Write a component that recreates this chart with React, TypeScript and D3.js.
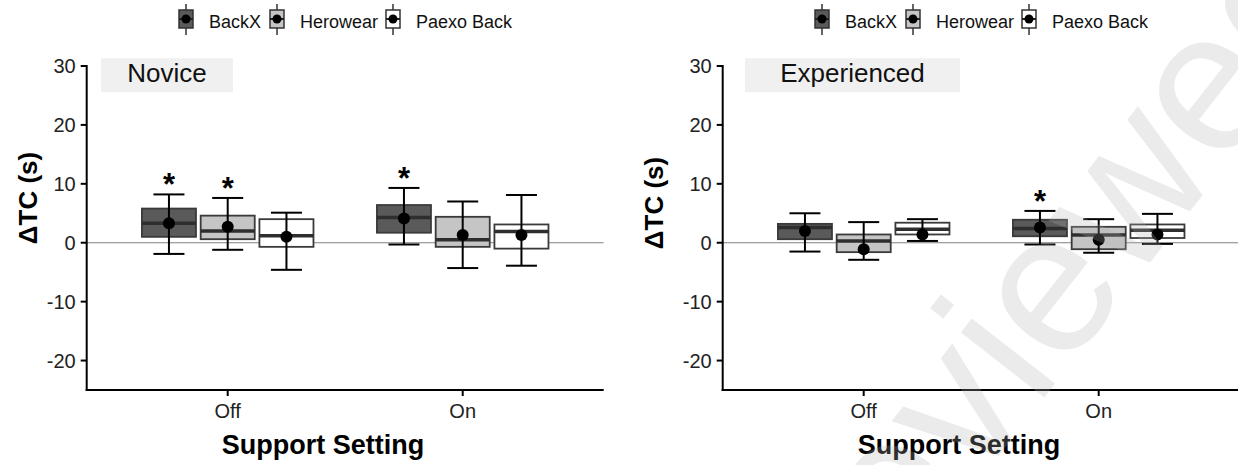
import * as d3 from "d3";

const settings = ["Off", "On"];
const devices = ["BackX", "Herowear", "Paexo Back"];
const deviceFill = ["#5a5a5a", "#c5c5c5", "#ffffff"];
const panelNames = ["Novice", "Experienced"];
const yTicks = [-20, -10, 0, 10, 20, 30];

// order in every array: Off BackX, Off Herowear, Off Paexo, On BackX, On Herowear, On Paexo
const noviceLow = [-1.9, -1.2, -4.6, -0.3, -4.3, -3.9];
const noviceQ1 = [1.0, 0.6, -0.7, 1.7, -0.7, -1.0];
const noviceMedian = [3.3, 2.0, 1.2, 4.3, 0.5, 1.9];
const noviceQ3 = [5.8, 4.6, 4.0, 6.4, 4.4, 3.1];
const noviceHigh = [8.2, 7.6, 5.1, 9.3, 7.0, 8.1];
const noviceMean = [3.3, 2.7, 1.0, 4.1, 1.3, 1.3];
const noviceSig = [true, true, false, true, false, false];

const expLow = [-1.5, -2.9, 0.3, -0.3, -1.7, -0.2];
const expQ1 = [0.6, -1.6, 1.4, 1.1, -1.1, 0.8];
const expMedian = [2.6, 0.3, 2.3, 2.4, 1.3, 2.1];
const expQ3 = [3.2, 1.4, 3.4, 3.9, 2.7, 3.1];
const expHigh = [5.0, 3.5, 4.0, 5.4, 4.0, 4.9];
const expMean = [2.0, -1.1, 1.4, 2.6, 0.5, 1.4];
const expSig = [false, false, false, true, false, false];

const panelData = [
  { low: noviceLow, q1: noviceQ1, med: noviceMedian, q3: noviceQ3, high: noviceHigh, mean: noviceMean, sig: noviceSig },
  { low: expLow, q1: expQ1, med: expMedian, q3: expQ3, high: expHigh, mean: expMean, sig: expSig },
];

// layout
const W = 1238;
const H = 465;
const panelShift = 636;
const plotLeft = 86.7;
const plotRight = 603.7;
const plotTop = 66;
const plotBottom = 390;
const labelBox = [
  { x: 101, w: 132 },
  { x: 745, w: 215 },
];
const yTitlePos = [
  { x: 36.5, y: 198 },
  { x: 663, y: 203 },
];
const legendOffsets = [0, 91, 207];

function Panel({ idx }: { idx: number }) {
  const dx = idx * panelShift;
  const x0 = plotLeft + dx;
  const x1 = plotRight + dx;
  const d = panelData[idx];

  const x = d3.scalePoint<string>().domain(settings).range([x0, x1]).padding(0.6);
  const step = x.step();
  const dodge = d3
    .scaleBand<string>()
    .domain(devices)
    .range([-0.375 * step, 0.375 * step]);
  const y = d3.scaleLinear().domain([-25, 30]).range([plotBottom, plotTop]);
  const boxW = dodge.bandwidth() * 0.92;
  const capW = 31;

  const boxes = d.low.map((_, i) => {
    const s = settings[Math.floor(i / 3)];
    const dev = devices[i % 3];
    const cx = (x(s) ?? 0) + (dodge(dev) ?? 0) + dodge.bandwidth() / 2;
    return { i, cx, fill: deviceFill[i % 3] };
  });

  const lx = 179 + dx;

  return (
    <g>
      {/* legend */}
      {devices.map((dev, k) => {
        const ox = lx + legendOffsets[k];
        return (
          <g key={dev}>
            <line x1={ox + 7} x2={ox + 7} y1={4} y2={35} stroke="#333" strokeWidth={1.5} />
            <rect x={ox} y={10} width={14} height={18} fill={deviceFill[k]} stroke="#333" strokeWidth={1.5} />
            <line x1={ox} x2={ox + 14} y1={19} y2={19} stroke="#222" strokeWidth={2} />
            <circle cx={ox + 7} cy={19} r={4.5} fill="#000" />
            <text x={ox + 30} y={28} fontSize={18} fill="#111">
              {dev}
            </text>
          </g>
        );
      })}

      {/* facet label */}
      <rect x={labelBox[idx].x} y={58.3} width={labelBox[idx].w} height={34} fill="#f0f0f0" />
      <text x={labelBox[idx].x + labelBox[idx].w / 2} y={82} fontSize={26} textAnchor="middle" fill="#111">
        {panelNames[idx]}
      </text>

      {/* zero line */}
      <line x1={x0} x2={x1} y1={y(0)} y2={y(0)} stroke="#808080" strokeWidth={1.2} />

      {/* boxes */}
      {boxes.map((b) => (
        <g key={b.i}>
          <rect
            x={b.cx - boxW / 2}
            y={y(d.q3[b.i])}
            width={boxW}
            height={y(d.q1[b.i]) - y(d.q3[b.i])}
            fill={b.fill}
            stroke="#3a3a3a"
            strokeWidth={1.8}
          />
          <line
            x1={b.cx - boxW / 2}
            x2={b.cx + boxW / 2}
            y1={y(d.med[b.i])}
            y2={y(d.med[b.i])}
            stroke="#2e2e2e"
            strokeWidth={3.5}
          />
          <line x1={b.cx} x2={b.cx} y1={y(d.high[b.i])} y2={y(d.low[b.i])} stroke="#000" strokeWidth={2} />
          <line x1={b.cx - capW / 2} x2={b.cx + capW / 2} y1={y(d.high[b.i])} y2={y(d.high[b.i])} stroke="#000" strokeWidth={2} />
          <line x1={b.cx - capW / 2} x2={b.cx + capW / 2} y1={y(d.low[b.i])} y2={y(d.low[b.i])} stroke="#000" strokeWidth={2} />
          <circle cx={b.cx} cy={y(d.mean[b.i])} r={6} fill="#000" />
          {d.sig[b.i] && (
            <text x={b.cx} y={y(d.high[b.i]) + 1} fontSize={31} fontWeight="bold" textAnchor="middle" fill="#000">
              *
            </text>
          )}
        </g>
      ))}

      {/* axes */}
      <line x1={x0} x2={x0} y1={y(30) - 1} y2={plotBottom + 1} stroke="#000" strokeWidth={2} />
      <line x1={x0 - 1} x2={x1} y1={plotBottom} y2={plotBottom} stroke="#000" strokeWidth={2} />
      {yTicks.map((t) => (
        <g key={t}>
          <line x1={x0 - 6} x2={x0} y1={y(t)} y2={y(t)} stroke="#000" strokeWidth={2} />
          <text x={x0 - 11} y={y(t)} dy="0.36em" fontSize={20} textAnchor="end" fill="#222">
            {t}
          </text>
        </g>
      ))}
      {settings.map((s) => (
        <g key={s}>
          <line x1={x(s)} x2={x(s)} y1={plotBottom} y2={plotBottom + 6} stroke="#000" strokeWidth={2} />
          <text x={x(s)} y={418} fontSize={20} textAnchor="middle" fill="#222">
            {s}
          </text>
        </g>
      ))}

      {/* axis titles */}
      <text
        transform={`translate(${yTitlePos[idx].x},${yTitlePos[idx].y}) rotate(-90)`}
        fontSize={26}
        fontWeight="bold"
        textAnchor="middle"
        fill="#000"
      >
        ΔTC (s)
      </text>
      <text x={323 + dx} y={454} fontSize={27} fontWeight="bold" textAnchor="middle" fill="#000">
        Support Setting
      </text>
    </g>
  );
}

export default function App() {
  return (
    <svg
      width={W}
      height={H}
      style={{ position: "absolute", left: 0, top: 0, background: "#fff" }}
      fontFamily="'Liberation Sans', Arial, sans-serif"
    >
      <rect width={W} height={H} fill="#fff" />
      <Panel idx={0} />
      <Panel idx={1} />
      {/* faint watermark */}
      <text
        transform="translate(865,627) rotate(-52)"
        fontSize={200}
        fill="#b3b3b3"
        opacity={0.25}
      >
        reviewed
      </text>
    </svg>
  );
}
